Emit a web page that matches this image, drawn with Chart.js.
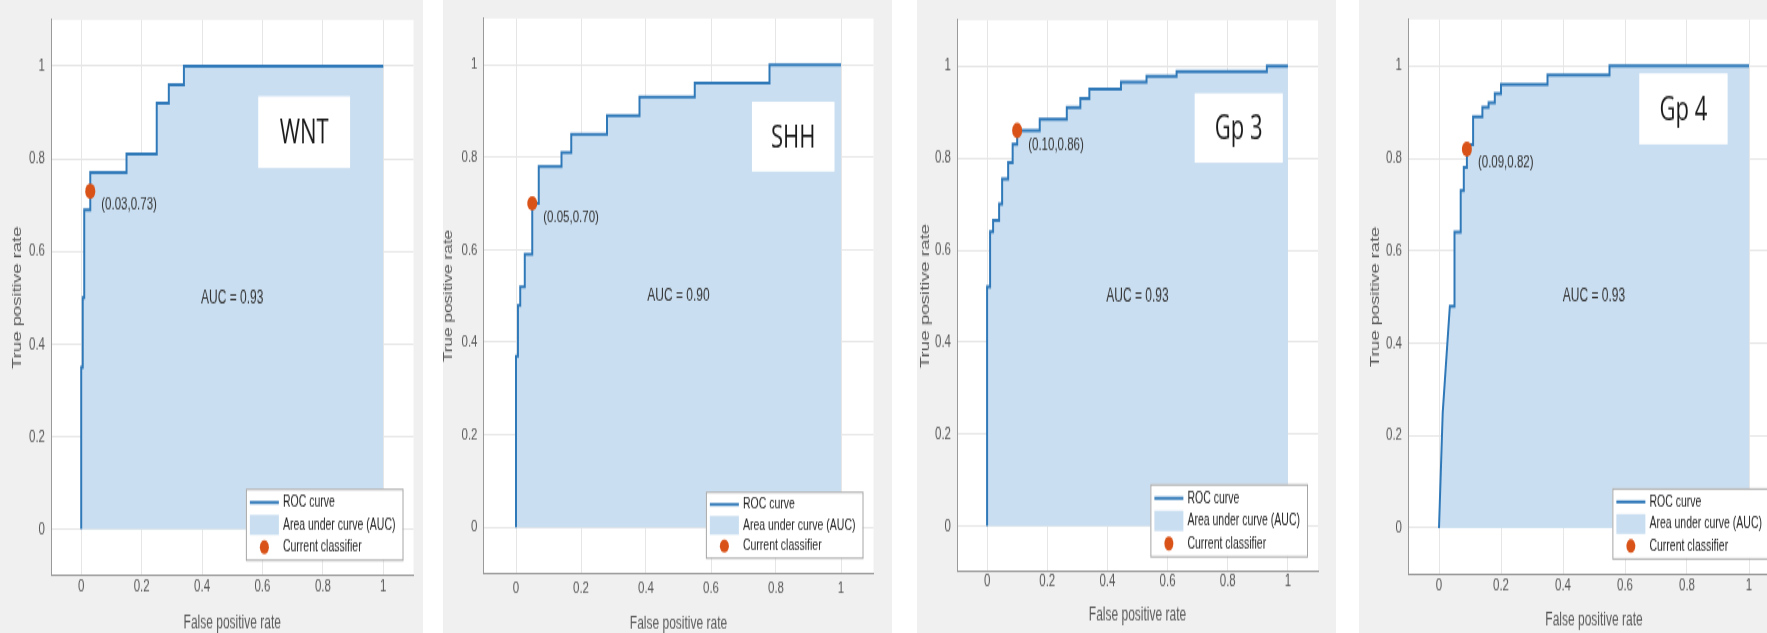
<!DOCTYPE html>
<html>
<head>
<meta charset="utf-8">
<script src="https://cdn.jsdelivr.net/npm/chart.js@4.4.1/dist/chart.umd.min.js"></script>
<style>
  html, body { margin: 0; padding: 0; background: #fff; overflow: hidden; }
  #page { position: relative; width: 1767px; height: 633px; overflow: hidden; }
  .panel { position: absolute; top: 0; height: 633px; background: #f0f0f0; overflow: hidden; }
  .panel canvas { position: absolute; left: 0; top: 0; transform-origin: 0 0; }
</style>
</head>
<body>
<div id="page"></div>
<script>
// ROC curves (corner points of the stairs)
var panelNames = ['WNT', 'SHH', 'Gp 3', 'Gp 4'];

var wntFpr = [0, 0, 0.005, 0.005, 0.01, 0.01, 0.03, 0.03, 0.15, 0.15, 0.25, 0.25, 0.29, 0.29, 0.34, 0.34, 1];
var wntTpr = [0, 0.35, 0.35, 0.5, 0.5, 0.69, 0.69, 0.77, 0.77, 0.81, 0.81, 0.92, 0.92, 0.96, 0.96, 1, 1];

var shhFpr = [0, 0, 0.006, 0.006, 0.013, 0.013, 0.027, 0.027, 0.05, 0.05, 0.07, 0.07, 0.14, 0.14, 0.17, 0.17, 0.28, 0.28, 0.38, 0.38, 0.55, 0.55, 0.78, 0.78, 1];
var shhTpr = [0, 0.37, 0.37, 0.48, 0.48, 0.52, 0.52, 0.59, 0.59, 0.70, 0.70, 0.78, 0.78, 0.81, 0.81, 0.85, 0.85, 0.89, 0.89, 0.93, 0.93, 0.96, 0.96, 1, 1];

var gp3Fpr = [0, 0, 0.01, 0.01, 0.02, 0.02, 0.04, 0.04, 0.05, 0.05, 0.07, 0.07, 0.085, 0.085, 0.10, 0.10, 0.175, 0.175, 0.265, 0.265, 0.31, 0.31, 0.34, 0.34, 0.445, 0.445, 0.53, 0.53, 0.63, 0.63, 0.93, 0.93, 1];
var gp3Tpr = [0, 0.52, 0.52, 0.64, 0.64, 0.665, 0.665, 0.70, 0.70, 0.755, 0.755, 0.79, 0.79, 0.83, 0.83, 0.86, 0.86, 0.885, 0.885, 0.91, 0.91, 0.93, 0.93, 0.95, 0.95, 0.965, 0.965, 0.978, 0.978, 0.988, 0.988, 1, 1];

var gp4Fpr = [0, 0.012, 0.019, 0.028, 0.035, 0.05, 0.05, 0.07, 0.07, 0.08, 0.08, 0.09, 0.09, 0.11, 0.11, 0.14, 0.14, 0.16, 0.16, 0.18, 0.18, 0.20, 0.20, 0.35, 0.35, 0.55, 0.55, 1];
var gp4Tpr = [0, 0.25, 0.32, 0.41, 0.48, 0.48, 0.64, 0.64, 0.73, 0.73, 0.78, 0.78, 0.83, 0.83, 0.89, 0.89, 0.91, 0.91, 0.92, 0.92, 0.94, 0.94, 0.96, 0.96, 0.98, 0.98, 1, 1];

var rocFpr = [wntFpr, shhFpr, gp3Fpr, gp4Fpr];
var rocTpr = [wntTpr, shhTpr, gp3Tpr, gp4Tpr];

// operating point ("Current classifier") and AUC of each panel
var classifierFpr = [0.03, 0.05, 0.10, 0.09];
var classifierTpr = [0.73, 0.70, 0.86, 0.82];
var aucValues = [0.93, 0.90, 0.93, 0.93];

var tickValues = [0, 0.2, 0.4, 0.6, 0.8, 1];
var tickLabels = ['0', '0.2', '0.4', '0.6', '0.8', '1'];
var legendLabels = ['ROC curve', 'Area under curve (AUC)', 'Current classifier'];
var xTitle = 'False positive rate';
var yTitle = 'True positive rate';

// where each panel sits on the page (page pixels); the original figure is stretched vertically
var panelBoxes = [
  { left: 0,    width: 423, cw: 423, plotL: 51,    plotR: 413.5, plotT: 17.5, plotB: 575.5, yTitleX: 18,   xTickY: 587, xTitleY: 624, tag: [0.586, 0.89, 0.78, 0.935] },
  { left: 443,  width: 449, cw: 449, plotL: 483.5, plotR: 873.5, plotT: 15.5, plotB: 573.5, yTitleX: 449,  xTickY: 588, xTitleY: 624, tag: [0.726, 0.98, 0.769, 0.92] },
  { left: 917,  width: 419, cw: 419, plotL: 957,   plotR: 1318,  plotT: 8,    plotB: 572,   yTitleX: 926,  xTickY: 581, xTitleY: 616, tag: [0.69, 0.983, 0.79, 0.941] },
  { left: 1359, width: 408, cw: 430, plotL: 1408,  plotR: 1780,  plotT: 7.8,  plotB: 574.2, yTitleX: 1376, xTickY: 585, xTitleY: 620, tag: [0.646, 0.931, 0.83, 0.984] }
];

var lineColor = '#3079b9';
var fillColor = '#c9def1';
var dotColor = '#d95319';
var family = '"Liberation Sans", Arial, sans-serif';

function decor(i, b, s) {
  return {
    id: 'decor' + i,
    beforeDraw: function(chart) {
      var a = chart.chartArea, ctx = chart.ctx;
      ctx.save();
      ctx.fillStyle = '#fff';
      ctx.fillRect(a.left, a.top, a.right - a.left, a.bottom - a.top);
      ctx.restore();
    },
    afterDatasetsDraw: function(chart) {
      var ctx = chart.ctx, a = chart.chartArea;
      var x = chart.scales.x, y = chart.scales.y;
      ctx.save();
      ctx.textBaseline = 'middle';

      // AUC text
      ctx.fillStyle = '#333';
      ctx.font = '12px ' + family;
      ctx.textAlign = 'center';
      ctx.fillText('AUC = ' + aucValues[i].toFixed(2), x.getPixelForValue(0.5), y.getPixelForValue(0.5));

      // operating point label
      ctx.textAlign = 'left';
      ctx.font = '11.5px ' + family;
      ctx.fillText('(' + classifierFpr[i].toFixed(2) + ',' + classifierTpr[i].toFixed(2) + ')',
        x.getPixelForValue(classifierFpr[i]) + 11, y.getPixelForValue(classifierTpr[i]) + 14 / s);

      // group name box
      var t = b.tag;
      var tx0 = x.getPixelForValue(t[0]), tx1 = x.getPixelForValue(t[1]);
      var ty0 = y.getPixelForValue(t[3]), ty1 = y.getPixelForValue(t[2]);
      ctx.fillStyle = '#fff';
      ctx.fillRect(tx0, ty0, tx1 - tx0, ty1 - ty0);
      ctx.fillStyle = '#1a1a1a';
      ctx.font = '22px "Open Sans", sans-serif';
      ctx.textAlign = 'center';
      ctx.fillText(panelNames[i], (tx0 + tx1) / 2, (ty0 + ty1) / 2 + 1);

      // legend, bottom right
      ctx.font = '10.5px ' + family;
      var tw = 0;
      legendLabels.forEach(function(l) { tw = Math.max(tw, ctx.measureText(l).width); });
      var lw = tw + 44, lh = 46;
      var lx = a.right - 11 - lw, ly = a.bottom - 16 / s - lh;
      ctx.fillStyle = '#fff';
      ctx.fillRect(lx, ly, lw, lh);
      ctx.strokeStyle = '#a6a6a6';
      ctx.lineWidth = 1;
      ctx.strokeRect(lx + 0.5, ly + 0.5, lw, lh);
      var rows = [ly + 9, ly + 23.5, ly + 38];
      ctx.strokeStyle = lineColor;
      ctx.lineWidth = 2;
      ctx.beginPath();
      ctx.moveTo(lx + 4, rows[0]);
      ctx.lineTo(lx + 33, rows[0]);
      ctx.stroke();
      ctx.fillStyle = fillColor;
      ctx.fillRect(lx + 4, rows[1] - 6.5, 29, 13);
      ctx.fillStyle = dotColor;
      ctx.beginPath();
      ctx.arc(lx + 18.5, rows[2], 4.5, 0, Math.PI * 2);
      ctx.fill();
      ctx.fillStyle = '#262626';
      ctx.textAlign = 'left';
      legendLabels.forEach(function(l, k) { ctx.fillText(l, lx + 37, rows[k]); });

      ctx.restore();
    }
  };
}

function makePanel(i) {
  var b = panelBoxes[i];
  var h = Math.round(633 * (b.plotR - b.plotL) / (b.plotB - b.plotT));
  var s = 633 / h;

  var div = document.createElement('div');
  div.className = 'panel';
  div.style.left = b.left + 'px';
  div.style.width = b.width + 'px';
  var canvas = document.createElement('canvas');
  canvas.width = b.cw;
  canvas.height = h;
  canvas.style.width = b.cw + 'px';
  canvas.style.height = h + 'px';
  canvas.style.transform = 'scaleY(' + s + ')';
  div.appendChild(canvas);
  document.getElementById('page').appendChild(div);

  var points = rocFpr[i].map(function(v, k) { return { x: v, y: rocTpr[i][k] }; });

  var tickFont = { family: family, size: 11.5 };
  var titleFont = { family: family, size: 12, lineHeight: 1 };

  new Chart(canvas, {
    type: 'scatter',
    data: {
      datasets: [{
        label: legendLabels[2],
        data: [{ x: classifierFpr[i], y: classifierTpr[i] }],
        pointRadius: 5,
        pointHoverRadius: 5,
        pointBackgroundColor: dotColor,
        pointBorderWidth: 0
      }, {
        type: 'line',
        label: legendLabels[0],
        data: points,
        borderColor: lineColor,
        borderWidth: 2,
        backgroundColor: fillColor,
        fill: 'origin',
        pointRadius: 0,
        tension: 0
      }]
    },
    options: {
      responsive: false,
      animation: false,
      events: [],
      layout: { padding: { left: 0, top: b.plotT / s, right: b.cw - (b.plotR - b.left), bottom: 0 } },
      plugins: { legend: { display: false }, tooltip: { enabled: false } },
      scales: {
        x: {
          type: 'linear', min: -0.1, max: 1.1,
          afterBuildTicks: function(sc) { sc.ticks = tickValues.map(function(v) { return { value: v }; }); },
          afterFit: function(sc) { sc.height = (633 - b.plotB) / s; },
          grid: { color: '#e6e6e6', drawTicks: false },
          border: { display: true, color: '#9a9a9a' },
          ticks: {
            padding: (b.xTickY - b.plotB) / s - 6.9,
            color: '#595959', font: tickFont, maxRotation: 0,
            callback: function(v, k) { return tickLabels[k]; }
          },
          title: { display: true, text: xTitle, color: '#595959', font: titleFont,
                   padding: { top: 0, bottom: (633 - b.xTitleY) / s - 6 } }
        },
        y: {
          type: 'linear', min: -0.1, max: 1.1,
          afterBuildTicks: function(sc) { sc.ticks = tickValues.map(function(v) { return { value: v }; }); },
          afterFit: function(sc) { sc.width = b.plotL - b.left; },
          grid: { color: '#e6e6e6', drawTicks: false },
          border: { display: true, color: '#9a9a9a' },
          ticks: {
            padding: 6, color: '#595959', font: tickFont,
            callback: function(v, k) { return tickLabels[k]; }
          },
          title: { display: true, text: yTitle, color: '#595959', font: titleFont,
                   padding: { top: b.yTitleX - b.left - 6, bottom: 0 } }
        }
      }
    },
    plugins: [decor(i, b, s)]
  });
}

for (var i = 0; i < panelNames.length; i++) makePanel(i);
</script>
</body>
</html>
